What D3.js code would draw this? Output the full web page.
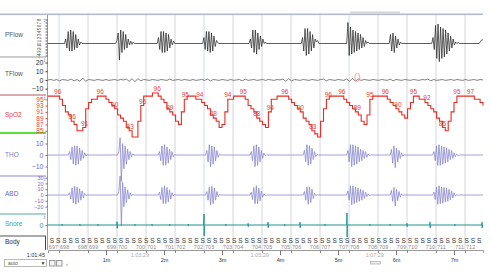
<!DOCTYPE html>
<html>
<head>
<meta charset="utf-8">
<script src="https://cdn.jsdelivr.net/npm/d3@7"></script>
<style>
    body { margin: 0; background: #fff; }
    svg { font-family: "Liberation Sans", Arial, sans-serif; display: block; }
</style>
</head>
<body>
<div id="psg-chart"></div>
<script>

// all times are seconds from the left edge of the window (1:01:45)
var windowSeconds = 450;
var epochLength = 30;

var channelNames = ["PFlow", "TFlow", "SpO2", "THO", "ABD", "Snore", "Body"];

// SpO2 (%), one sample every 3 s
var spo2Step = 3;
var spo2Values = [
    96, 96, 96, 96, 95, 93, 91, 90, 88, 87,
    85, 85, 86, 92, 94, 95, 95, 96, 96, 96,
    95, 94, 93, 92, 90, 89, 88, 86, 85, 83,
    83, 88, 93, 96, 96, 96, 97, 97, 96, 95,
    94, 92, 91, 90, 88, 87, 91, 95, 96, 96,
    96, 95, 95, 94, 93, 92, 90, 89, 88, 86,
    87, 91, 95, 95, 96, 96, 96, 96, 95, 93,
    92, 91, 89, 88, 87, 86, 91, 95, 95, 96,
    96, 96, 96, 95, 94, 93, 92, 91, 89, 88,
    87, 85, 84, 83, 88, 92, 95, 96, 96, 96,
    96, 96, 95, 94, 93, 92, 91, 90, 88, 87,
    90, 95, 96, 96, 96, 96, 96, 95, 94, 93,
    92, 91, 90, 89, 92, 94, 96, 96, 95, 95,
    94, 93, 92, 91, 89, 88, 86, 85, 88, 91,
    94, 96, 96, 96, 96, 96, 96, 95, 95, 94,
    93
];

// value labels written along the SpO2 trace
var spo2MarkTimes = [10, 25, 38, 54, 69, 85, 98, 113, 126, 142,
                     157, 171, 186, 202, 216, 230, 245, 261, 274, 290,
                     304, 320, 333, 349, 362, 378, 392, 408, 423, 437];
var spo2MarkText = ["96", "86", "91", "96", "90", "83", "96", "96", "89", "95",
                    "94", "88", "94", "95", "88", "94", "96", "90", "83", "96",
                    "96", "89", "95", "96", "90", "95", "92", "85", "95", "97"];

// TFlow, one sample every 3 s
var tflowStep = 3;
var tflowValues = [
    0, 0.5, -0.5, 0.5, -1, 0.5, 0, -0.5, 1, -1,
    0.5, -1.5, 2, -1.5, 0.5, 0, -0.5, 0.5, 0, -0.5,
    0.5, -0.5, 0, 0.5, -0.5, 0.5, 0, 1, -1.5, 1.5,
    -2, 1.5, -1, 0.5, 0, -0.5, 0.5, 0, -0.5, 0.5,
    0, -0.5, 1, -0.5, 0, 0.5, -0.5, 0.5, 0, -0.5,
    0.5, -0.5, 0, 0.5, -0.5, 1, -1, 0.5, 0, -0.5,
    0.5, 0, -0.5, 0.5, -0.5, 0, 0.5, -1, 1, -0.5,
    0, 0.5, -0.5, 0, 0.5, -0.5, 0.5, 0, -0.5, 0.5,
    0, 1, -1.5, 1.5, -1, 0.5, 0, -0.5, 0.5, 0,
    -0.5, 0.5, 0, -0.5, 0.5, 1, -1, 0.5, 0, -0.5,
    0.5, 0, -0.5, 1, -1.5, 2, -1.5, 1, -0.5, 0.5,
    0, -0.5, 0.5, 0, -0.5, 0.5, 0, -0.5, 1, -1,
    0.5, 0, -0.5, 0.5, 0, -0.5, 0.5, 0, -0.5, 0.5,
    0, 1, -1, 0.5, -0.5, 0, 0.5, -0.5, 0, 0.5,
    -0.5, 0.5, 0, -0.5, 0.5, -0.5, 0, 0.5, -0.5, 0.5,
    0
];

// breathing bursts: start time, then one sample every 1.3 s; flat between bursts
var burstStep = 1.3;

var pflowBurstTimes = [17, 70, 113, 160, 208, 262, 309, 353, 397, 446];
var pflowBursts = [
    [0, 1.5, -1.5, 4, -2.5, 4.5, -2.5, 4, -2, 3, -1.5, 1.5, -0.5, 0.5, 0],
    [0, 1, 3.5, -5.5, 4.5, -3, 4, -2, 3, -1.5, 1.5, -0.5, 0.8, -0.3, 0.5, 0],
    [0, 2, -2, 4, -3, 4, -3, 3.5, -2.5, 3, -1.5, 1.5, -0.5, 0.8, 0],
    [0, 2, -2, 4, -2.5, 4, -3, 3.5, -2.5, 2.5, -1, 1, 0.3, 0],
    [0, 1.5, -1.5, 4.5, -3, 4.5, -3.5, 3.5, -2, 2.5, -1, 1.5, 0, 0.5, 0],
    [0, 2, -2.5, 5, -4, 5, -3.5, 4, -2.5, 3, -1.5, 1.5, 0.5, 1, 0],
    [0, 7, -4, 5.5, -3.5, 4.5, -3, 4, -2.5, 3.5, -2, 3, -1.5, 2, -1, 1, 0, 0.5, 0],
    [0, 3, -2.5, 3.5, -3, 2.5, -1.5, 1.5, -0.5, 0.5, 0],
    [0, 2, -2, 6, -5, 6.5, -6, 5.5, -5, 5, -4.5, 4.5, -3.5, 3.5, -2.5, 2.5, -1.5, 1.5, -0.5, 0.5, 0, 0.3, 0],
    [0, 0.6, 1.2, 1.2]
];

var thoBurstTimes = [21, 72, 114, 163, 209, 264, 309, 354, 398];
var thoBursts = [
    [0, 3, -4, 7, -8, 8, -9, 8, -8, 6, -5, 4, -3, 2, -1, 0],
    [0, 3, 15, -23, 10, -12, 8, -8, 5, -4, 3, -1.5, 1, 0],
    [0, 3, -5, 8, -9, 9, -9, 7, -7, 5, -4, 3, -1.5, 0.5, 0],
    [0, 4, -6, 9, -10, 8, -8, 7, -5, 4, -2, 1, 0],
    [0, 3, -5, 8, -10, 9, -9, 7, -6, 4, -3, 1.5, -0.5, 0],
    [0, 4, -6, 9, -9, 8, -8, 6, -4, 3, -1.5, 0.5, 0],
    [0, 4, -6, 9, -10, 9, -9, 8, -8, 7, -6, 5, -5, 4, -3, 3, -2, 1, -0.5, 0],
    [0, 5, -7, 8, -11, 6, -6, 4, -3, 2, -1, 0],
    [0, 3, -5, 8, -9, 9, -9, 8, -8, 7, -7, 6, -6, 5, -4, 4, -3, 2, -1.5, 1, -0.5, 0]
];

var abdBurstTimes = [21, 72, 114, 163, 209, 264, 309, 354, 398];
var abdBursts = [
    [0, 4, -7, 12, -14, 15, -16, 14, -13, 11, -9, 7, -5, 3, -1, 0],
    [0, 6, 33, -53, 22, -20, 14, -13, 9, -7, 4, -2, 1, 0],
    [0, 5, -8, 13, -15, 16, -15, 13, -12, 9, -7, 4, -2, 1, 0],
    [0, 6, -9, 14, -17, 15, -15, 12, -9, 6, -3, 1, 0],
    [0, 5, -8, 13, -15, 16, -15, 12, -10, 7, -4, 2, -0.5, 0],
    [0, 6, -9, 14, -16, 14, -13, 10, -6, 3, -1, 0.5, 0],
    [0, 7, -9, 16, -17, 16, -15, 14, -13, 12, -11, 10, -9, 8, -6, 5, -3, 2, -1, 0],
    [0, 8, -11, 13, -19, 10, -10, 6, -4, 2, -1, 0],
    [0, 5, -8, 14, -16, 16, -15, 14, -14, 13, -12, 12, -11, 10, -8, 7, -5, 4, -2, 1, -0.5, 0]
];

// snore events: time and peak size
var snoreTimes = [14.5, 33, 51.7, 71.4, 90, 107.6, 126, 145, 161.4, 184, 207,
                  227.6, 245, 260.7, 286.5, 309.3, 333, 353.8, 371.4, 395.2, 421, 449];
var snoreAmps = [0.8, 0.8, 0.8, 3, 0.8, 0.8, 0.8, 0.8, 10, 0.8, 1.5,
                 2.5, 0.8, 2.5, 0.8, 11, 0.8, 0.8, 1.5, 2.5, 0.8, 2.5];

// body position, one code every 6.5 s starting at 4 s
var bodyStart = 4;
var bodyStep = 6.5;
var bodyCodes = "SSSSSSSSSSSSSSSSSSSSSSSSSSSSSSSSSSSSSSSSSSSSSSSSSSSSSSSSSSSSSSSSSSSSS".split("");

// epochs shown in the window, the first boundary falls at 11.4 s
var epochNumbers = [697, 698, 699, 700, 701, 702, 703, 704, 705, 706, 707, 708, 709, 710, 711, 712];
var firstEpochBoundary = 11.4;

var minuteTicks = [60, 120, 180, 240, 300, 360, 420];
var minuteLabels = ["1m", "2m", "3m", "4m", "5m", "6m", "7m"];

var clockTimes = [95, 219, 338];
var clockLabels = ["1:03:29", "1:05:29", "1:07:29"];

// axis tick values per channel
var pflowTicks = [-4, -3, -2, -1, 0, 1, 2, 3, 4, 5, 6, 7, 8];
var tflowTicks = [20, 10, 0, -10];
var spo2Ticks = [95, 93, 91, 89, 87, 85];
var thoTicks = [10, 0, -10];
var abdTicks = [30, 20, 10, 0, -10, -20];
var snoreTicks = [0];


PsgChart = function(_parentElement) {
    this.parentElement = _parentElement;
    this.initVis();
};

PsgChart.prototype.initVis = function() {
    var vis = this;

    vis.width = 491;
    vis.height = 277;
    vis.plotLeft = 48;
    vis.plotRight = 483;
    vis.top = 15;
    vis.axisY = 250;

    vis.svg = d3.select("#" + vis.parentElement).append("svg")
        .attr("width", vis.width)
        .attr("height", vis.height);

    vis.x = d3.scaleLinear()
        .domain([0, windowSeconds])
        .range([vis.plotLeft, vis.plotRight]);

    // one y scale per channel band
    vis.y = {
        PFlow: d3.scaleLinear().domain([-4.5, 8.5]).range([57, 18]),
        TFlow: d3.scaleLinear().domain([-15, 25]).range([93, 58.2]),
        SpO2: d3.scaleLinear().domain([83, 97]).range([137, 93]),
        THO: d3.scaleLinear().domain([-18, 17.4]).range([175.7, 135]),
        ABD: d3.scaleLinear().domain([-32.8, 32.8]).range([214, 176]),
        Snore: d3.scaleLinear().domain([-10, 10]).range([236, 214])
    };

    vis.traceColor = { PFlow: "#2a2a2a", TFlow: "#555", SpO2: "#ea2a22", THO: "#8581cc", ABD: "#8581cc", Snore: "#21948c" };
    vis.labelColor = { PFlow: "#555", TFlow: "#555", SpO2: "#e2403a", THO: "#7d7bc4", ABD: "#6b69c2", Snore: "#3aa3a0", Body: "#333" };
    vis.labelY = { PFlow: 35, TFlow: 74, SpO2: 115, THO: 155, ABD: 194, Snore: 224, Body: 242 };

    vis.wrangleData();
};

PsgChart.prototype.wrangleData = function() {
    var vis = this;

    function burstSeries(times, bursts) {
        var pts = [[0, 0]];
        times.forEach(function(t0, i) {
            bursts[i].forEach(function(v, j) { pts.push([t0 + j * burstStep, v]); });
        });
        if (pts[pts.length - 1][0] < windowSeconds) pts.push([windowSeconds, pts[pts.length - 1][1]]);
        return pts;
    }

    vis.series = {};
    vis.series.PFlow = burstSeries(pflowBurstTimes, pflowBursts);
    vis.series.TFlow = tflowValues.map(function(v, i) { return [i * tflowStep, v]; });
    vis.series.THO = burstSeries(thoBurstTimes, thoBursts);
    vis.series.ABD = burstSeries(abdBurstTimes, abdBursts);
    vis.series.SpO2 = spo2Values.map(function(v, i) { return [i * spo2Step, v]; });

    var snore = [[0, 0]];
    snoreTimes.forEach(function(t, i) {
        snore.push([t - 0.3, 0], [t, snoreAmps[i]], [t + 0.15, -snoreAmps[i]], [t + 0.4, 0]);
    });
    snore.push([windowSeconds, 0]);
    vis.series.Snore = snore;

    vis.spo2Marks = spo2MarkTimes.map(function(t, i) {
        return { t: t, v: spo2Values[Math.min(spo2Values.length - 1, Math.floor(t / spo2Step))], text: spo2MarkText[i] };
    });

    vis.boundaries = epochNumbers.slice(1).map(function(n, i) {
        return { t: firstEpochBoundary + i * epochLength, left: epochNumbers[i], right: n };
    });

    vis.body = bodyCodes.map(function(c, i) { return { t: bodyStart + i * bodyStep, code: c }; });

    vis.updateVis();
};

PsgChart.prototype.updateVis = function() {
    var vis = this;
    var svg = vis.svg;

    // top scroll bar
    svg.append("rect").attr("x", 0).attr("y", 13.5).attr("width", vis.plotRight).attr("height", 1.6).attr("fill", "#b3bbd3");
    svg.append("rect").attr("x", 350).attr("y", 11.5).attr("width", 50).attr("height", 2).attr("fill", "#d4d4d4");

    // epoch grid lines
    svg.append("g").selectAll("line")
        .data(vis.boundaries)
        .enter().append("line")
        .attr("x1", function(d) { return vis.x(d.t); })
        .attr("x2", function(d) { return vis.x(d.t); })
        .attr("y1", vis.top)
        .attr("y2", vis.axisY)
        .attr("stroke", function(d, i) { return i % 5 === 0 ? "#cfdbe6" : "#d5d5dc"; })
        .attr("stroke-width", 1);

    // label panel separators
    var seps = [
        { y: 57, c: "#9a9a9a", w: 1 },
        { y: 95, c: "#b05a5a", w: 1 },
        { y: 133, c: "#5ee03c", w: 2 },
        { y: 176, c: "#8a88cc", w: 1 },
        { y: 214, c: "#4aaaa8", w: 1 },
        { y: 236, c: "#555", w: 1 }
    ];
    svg.append("g").selectAll("line")
        .data(seps)
        .enter().append("line")
        .attr("x1", 0).attr("x2", 46)
        .attr("y1", function(d) { return d.y; })
        .attr("y2", function(d) { return d.y; })
        .attr("stroke", function(d) { return d.c; })
        .attr("stroke-width", function(d) { return d.w; });

    svg.append("line").attr("x1", 45.5).attr("x2", 45.5).attr("y1", 236).attr("y2", 250).attr("stroke", "#444");

    // main vertical axis line
    svg.append("line").attr("x1", 47.5).attr("x2", 47.5).attr("y1", vis.top).attr("y2", vis.axisY).attr("stroke", "#9a9a9a");

    // channel names
    svg.append("g").selectAll("text")
        .data(channelNames)
        .enter().append("text")
        .attr("x", 5)
        .attr("y", function(d) { return vis.labelY[d]; })
        .attr("dy", "0.35em")
        .attr("font-size", "6.5px")
        .attr("fill", function(d) { return vis.labelColor[d]; })
        .text(function(d) { return d; });

    // channel axes
    function drawAxis(name, ticks, size, color) {
        var axis = d3.axisLeft(vis.y[name]).tickValues(ticks).tickSize(2).tickSizeOuter(0).tickPadding(2);
        var g = svg.append("g")
            .attr("class", "axis")
            .attr("transform", "translate(47.5,0)")
            .call(axis);
        g.select(".domain").remove();
        g.selectAll("line").attr("stroke", color);
        g.selectAll("text").attr("fill", color).attr("font-size", size).attr("font-family", "Liberation Sans, Arial, sans-serif");
        return g;
    }

    var pg = drawAxis("PFlow", pflowTicks, "4.5px", "#555");
    pg.selectAll("text")
        .attr("x", null)
        .attr("text-anchor", "middle")
        .attr("transform", "translate(-8,0) rotate(-90)")
        .attr("dy", "0.35em");
    drawAxis("TFlow", tflowTicks, "7px", "#333");
    drawAxis("SpO2", spo2Ticks, "6.5px", "#e2403a");
    drawAxis("THO", thoTicks, "7px", "#6d6bbd");
    drawAxis("ABD", abdTicks, "5.5px", "#6d6bbd");
    drawAxis("Snore", snoreTicks, "7px", "#2f9d99");

    // small scale icons at the top of each axis
    var iconY = [20, 60, 98, 137, 179, 217];
    svg.append("g").selectAll("text")
        .data(iconY)
        .enter().append("text")
        .attr("x", 44.5).attr("y", function(d) { return d; })
        .attr("dy", "0.35em")
        .attr("text-anchor", "middle")
        .attr("font-size", "6px")
        .attr("fill", "#3b74d4")
        .text("\u2195");

    // traces
    ["PFlow", "TFlow", "THO", "ABD", "Snore"].forEach(function(name) {
        var line = d3.line()
            .x(function(d) { return vis.x(d[0]); })
            .y(function(d) { return vis.y[name](d[1]); });
        svg.append("path")
            .datum(vis.series[name])
            .attr("d", line)
            .attr("fill", "none")
            .attr("stroke", vis.traceColor[name])
            .attr("stroke-width", name === "Snore" ? 1 : 0.75)
            .attr("stroke-linejoin", "round");
    });

    var spoLine = d3.line()
        .curve(d3.curveStepAfter)
        .x(function(d) { return vis.x(d[0]); })
        .y(function(d) { return vis.y.SpO2(d[1]); });
    svg.append("path")
        .datum(vis.series.SpO2)
        .attr("d", spoLine)
        .attr("fill", "none")
        .attr("stroke", vis.traceColor.SpO2)
        .attr("stroke-width", 1.1);

    svg.append("g").selectAll("text")
        .data(vis.spo2Marks)
        .enter().append("text")
        .attr("x", function(d) { return vis.x(d.t); })
        .attr("y", function(d) { return vis.y.SpO2(d.v) - 2; })
        .attr("text-anchor", "middle")
        .attr("font-size", "6.5px")
        .attr("fill", "#e2403a")
        .text(function(d) { return d.text; });

    // event mark on TFlow
    svg.append("ellipse")
        .attr("cx", vis.x(320)).attr("cy", vis.y.TFlow(3))
        .attr("rx", 2.5).attr("ry", 4)
        .attr("fill", "none").attr("stroke", "#ee8a8a").attr("stroke-width", 0.8);

    // body position codes and epoch numbers
    svg.append("g").selectAll("text")
        .data(vis.body)
        .enter().append("text")
        .attr("x", function(d) { return vis.x(d.t); })
        .attr("y", 243)
        .attr("text-anchor", "middle")
        .attr("font-size", "6.5px")
        .attr("fill", "#333")
        .text(function(d) { return d.code; });

    var eg = svg.append("g").selectAll("g")
        .data(vis.boundaries)
        .enter().append("g")
        .attr("transform", function(d) { return "translate(" + vis.x(d.t) + ",248.5)"; })
        .attr("font-size", "5.5px")
        .attr("fill", "#8a8a8a");
    eg.append("text").attr("x", -1).attr("text-anchor", "end").text(function(d) { return d.left; });
    eg.append("text").attr("x", 1).text(function(d) { return d.right; });

    // time axis
    var tAxis = d3.axisBottom(vis.x)
        .tickValues(vis.boundaries.map(function(d) { return d.t; }))
        .tickSize(3)
        .tickFormat("");
    var tg = svg.append("g")
        .attr("transform", "translate(0," + vis.axisY + ")")
        .call(tAxis);
    tg.select(".domain").attr("stroke", "#999");
    tg.selectAll("line").attr("stroke", "#888");

    var mAxis = d3.axisBottom(vis.x)
        .tickValues(minuteTicks)
        .tickSize(5)
        .tickPadding(3)
        .tickFormat(function(d, i) { return minuteLabels[i]; });
    var mg = svg.append("g")
        .attr("transform", "translate(0," + vis.axisY + ")")
        .call(mAxis);
    mg.select(".domain").remove();
    mg.selectAll("line").attr("stroke", "#777");
    mg.selectAll("text").attr("font-size", "5.5px").attr("fill", "#333").attr("font-family", "Liberation Sans, Arial, sans-serif");

    svg.append("g").selectAll("text")
        .data(clockTimes)
        .enter().append("text")
        .attr("x", function(d) { return vis.x(d); })
        .attr("y", 257)
        .attr("text-anchor", "middle")
        .attr("font-size", "5.5px")
        .attr("fill", "#aaa")
        .text(function(d, i) { return clockLabels[i]; });

    svg.append("text").attr("x", 45).attr("y", 257).attr("text-anchor", "end")
        .attr("font-size", "5.5px").attr("fill", "#333").text("1:01:45");

    // bottom controls
    svg.append("rect").attr("x", 4.5).attr("y", 259.5).attr("width", 42).attr("height", 7)
        .attr("fill", "#fff").attr("stroke", "#b8b8b8");
    svg.append("text").attr("x", 8).attr("y", 265).attr("font-size", "5px").attr("fill", "#555").text("auto");
    svg.append("text").attr("x", 43).attr("y", 265).attr("text-anchor", "middle").attr("font-size", "5px").attr("fill", "#333").text("\u25BC");
    [49.5, 56.5].forEach(function(bx) {
        svg.append("rect").attr("x", bx).attr("y", 260.5).attr("width", 5.5).attr("height", 5.5)
            .attr("fill", "#f4f4f4").attr("stroke", "#999");
    });
    svg.append("text").attr("x", 66).attr("y", 265.5).attr("font-size", "6px").attr("fill", "#777").text("\u2039");
    svg.append("rect").attr("x", 370.5).attr("y", 261.5).attr("width", 10).attr("height", 2.5)
        .attr("fill", "#eee").attr("stroke", "#999").attr("stroke-width", 0.6);
};

var psgChart = new PsgChart("psg-chart");

</script>
</body>
</html>
